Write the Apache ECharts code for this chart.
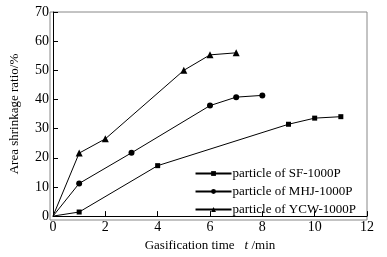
<!DOCTYPE html>
<html>
<head>
<meta charset="utf-8">
<script src="https://cdn.jsdelivr.net/npm/echarts@6/dist/echarts.min.js"></script>
<style>
  html, body { margin: 0; padding: 0; background: #fff; }
  #chart { width: 387px; height: 257px; }
</style>
</head>
<body>
<div id="chart"></div>
<script>
const sfTime = [0, 1, 4, 9, 10, 11];
const sfRatio = [0, 1.4, 17.3, 31.5, 33.6, 34.1];
const mhjTime = [0, 1, 3, 6, 7, 8];
const mhjRatio = [0, 11.2, 21.7, 37.9, 40.8, 41.4];
const ycwTime = [0, 1, 2, 5, 6, 7];
const ycwRatio = [0, 21.6, 26.5, 50.0, 55.3, 56.0];
const seriesNames = ['particle of SF-1000P', 'particle of MHJ-1000P', 'particle of YCW-1000P'];

const font = 'Liberation Serif, Times New Roman, serif';
const chart = echarts.init(document.getElementById('chart'));

// origin point has no marker in the original
function pairs(xs, ys) {
  return xs.map((x, i) => (i === 0 ? { value: [x, ys[i]], symbol: 'none' } : [x, ys[i]]));
}

function makeSeries(name, data, symbol, size) {
  return {
    name,
    type: 'line',
    data,
    symbol,
    symbolSize: size,
    showSymbol: true,
    lineStyle: { color: '#000', width: 1 },
    itemStyle: { color: '#000' },
    emphasis: { disabled: true }
  };
}

chart.setOption({
  animation: false,
  grid: { left: 50, right: 20, top: 12, bottom: 37 },
  legend: {
    orient: 'vertical',
    right: 26,
    top: 162,
    itemGap: 5,
    itemWidth: 36,
    itemHeight: 6,
    textStyle: { fontFamily: font, fontSize: 13, color: '#000', padding: [0, 0, 0, -4] },
    data: seriesNames
  },
  xAxis: {
    type: 'value',
    min: 0,
    max: 12,
    interval: 2,
    name: '{a|Gasification time}   {b|t} {a|/min}',
    nameLocation: 'middle',
    nameGap: 22,
    nameTextStyle: {
      rich: {
        a: { fontFamily: font, fontSize: 13, color: '#000' },
        b: { fontFamily: font, fontSize: 13, color: '#000', fontStyle: 'italic' }
      }
    },
    axisLine: { lineStyle: { color: '#000', width: 1 } },
    axisTick: { inside: true, length: 5, lineStyle: { color: '#000' } },
    axisLabel: { fontFamily: font, fontSize: 14, color: '#000', margin: 4 },
    splitLine: { show: false }
  },
  yAxis: {
    type: 'value',
    min: 0,
    max: 70,
    interval: 10,
    name: 'Area shrinkage ratio/%',
    nameLocation: 'middle',
    nameGap: 32,
    nameTextStyle: { fontFamily: font, fontSize: 13, color: '#000' },
    axisLine: { lineStyle: { color: '#000', width: 1 } },
    axisTick: { inside: true, length: 5, lineStyle: { color: '#000' } },
    axisLabel: { fontFamily: font, fontSize: 14, color: '#000', margin: 4 },
    splitLine: { show: false }
  },
  graphic: [{
    type: 'rect',
    shape: { x: 50, y: 12, width: 317, height: 208 },
    style: { fill: 'none', stroke: '#888', lineWidth: 1 },
    silent: true,
    z: 0
  }],
  series: [
    makeSeries(seriesNames[0], pairs(sfTime, sfRatio), 'rect', 5),
    makeSeries(seriesNames[1], pairs(mhjTime, mhjRatio), 'circle', 6),
    makeSeries(seriesNames[2], pairs(ycwTime, ycwRatio), 'triangle', 7)
  ]
});
</script>
</body>
</html>
